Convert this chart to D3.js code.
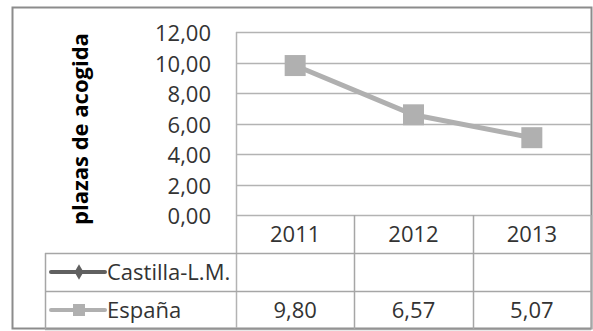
<!DOCTYPE html>
<html>
<head>
<meta charset="utf-8">
<script src="https://cdn.jsdelivr.net/npm/d3@7"></script>
<style>
    body { margin: 0; background: #fff; }
    text { font-family: "Open Sans", sans-serif; fill: #333; }
</style>
</head>
<body>
<div id="chart"></div>
<script>
var years = ["2011", "2012", "2013"];
var seriesNames = ["Castilla-L.M.", "España"];
var castillaValues = [null, null, null];
var espanaValues = [9.80, 6.57, 5.07];
var yTicks = [0, 2, 4, 6, 8, 10, 12];

var width = 593, height = 331;
var plot = {left: 236, right: 591, top: 32, bottom: 215};
var tableLeft = 45;
var rowH = 38;
var fontSize = "22px";

var fmt = function (v) { return v.toFixed(2).replace(".", ","); };

var svg = d3.select("#chart").append("svg")
    .attr("width", width)
    .attr("height", height);

var xScale = d3.scaleBand().domain(years).range([plot.left, plot.right]);
var yScale = d3.scaleLinear().domain([0, 12]).range([plot.bottom, plot.top]);

// frame
svg.append("rect")
    .attr("x", 12.5).attr("y", 7.5)
    .attr("width", 579).attr("height", 321)
    .attr("fill", "none")
    .attr("stroke", "#8c8c8c")
    .attr("stroke-width", 2);

// gridlines
svg.append("g").selectAll("line")
    .data(yTicks)
    .enter().append("line")
    .attr("x1", plot.left).attr("x2", plot.right)
    .attr("y1", function (d) { return Math.round(yScale(d)) + 0.5; })
    .attr("y2", function (d) { return Math.round(yScale(d)) + 0.5; })
    .attr("stroke", "#b3b3b3")
    .attr("stroke-width", 1.5);

svg.append("line")
    .attr("x1", plot.left + 0.5).attr("x2", plot.left + 0.5)
    .attr("y1", plot.top).attr("y2", height - 3)
    .attr("stroke", "#b3b3b3").attr("stroke-width", 1.5);

// y tick labels
svg.append("g").selectAll("text")
    .data(yTicks)
    .enter().append("text")
    .attr("x", 211)
    .attr("y", function (d) { return yScale(d) + 9; })
    .attr("text-anchor", "end")
    .style("font-size", fontSize)
    .text(fmt);

// y title
svg.append("text")
    .attr("transform", "translate(88,129) rotate(-90)")
    .attr("text-anchor", "middle")
    .style("font-size", "22px")
    .style("font-weight", "bold")
    .style("fill", "#000")
    .text("plazas de acogida");

// table
var table = svg.append("g");
var rowsTop = plot.bottom;
[1, 2, 3].forEach(function (i) {
    var y = Math.round(rowsTop + rowH * i) + 0.5;
    table.append("line")
        .attr("x1", tableLeft).attr("x2", plot.right)
        .attr("y1", y).attr("y2", y)
        .attr("stroke", "#a6a6a6").attr("stroke-width", 1.5);
});
table.append("line")
    .attr("x1", tableLeft + 0.5).attr("x2", tableLeft + 0.5)
    .attr("y1", rowsTop + rowH).attr("y2", rowsTop + rowH * 3)
    .attr("stroke", "#a6a6a6").attr("stroke-width", 1.5);
years.forEach(function (yr) {
    var x = Math.round(xScale(yr) + xScale.bandwidth()) + 0.5;
    table.append("line")
        .attr("x1", x).attr("x2", x)
        .attr("y1", rowsTop).attr("y2", rowsTop + rowH * 3)
        .attr("stroke", "#a6a6a6").attr("stroke-width", 1.5);
});

table.selectAll("text.year")
    .data(years)
    .enter().append("text")
    .attr("class", "year")
    .attr("x", function (d) { return xScale(d) + xScale.bandwidth() / 2; })
    .attr("y", rowsTop + rowH / 2 + 8)
    .attr("text-anchor", "middle")
    .style("font-size", fontSize)
    .text(function (d) { return d; });

table.selectAll("text.val")
    .data(espanaValues)
    .enter().append("text")
    .attr("class", "val")
    .attr("x", function (d, i) { return xScale(years[i]) + xScale.bandwidth() / 2; })
    .attr("y", rowsTop + rowH * 2.5 + 8)
    .attr("text-anchor", "middle")
    .style("font-size", fontSize)
    .text(fmt);

// legend keys inside table
var legendColors = ["#606060", "#b0b0b0"];
seriesNames.forEach(function (name, i) {
    var cy = rowsTop + rowH * (i + 1.5);
    table.append("line")
        .attr("x1", 51).attr("x2", 105)
        .attr("y1", cy).attr("y2", cy)
        .attr("stroke", legendColors[i])
        .attr("stroke-width", 4)
        .attr("stroke-linecap", "round");
    if (i === 0) {
        table.append("path")
            .attr("d", d3.symbol().type(d3.symbolDiamond).size(70)())
            .attr("transform", "translate(79," + cy + ")")
            .attr("fill", legendColors[i]);
    } else {
        table.append("rect")
            .attr("x", 73).attr("y", cy - 6)
            .attr("width", 12).attr("height", 12)
            .attr("fill", legendColors[i]);
    }
    table.append("text")
        .attr("x", 107)
        .attr("y", cy + 8)
        .style("font-size", fontSize)
        .text(name);
});

// series line
var line = d3.line()
    .defined(function (d) { return d !== null; })
    .x(function (d, i) { return xScale(years[i]) + xScale.bandwidth() / 2; })
    .y(function (d) { return yScale(d); });

svg.append("path")
    .attr("d", line(castillaValues))
    .attr("fill", "none")
    .attr("stroke", legendColors[0])
    .attr("stroke-width", 5);

svg.append("path")
    .attr("d", line(espanaValues))
    .attr("fill", "none")
    .attr("stroke", legendColors[1])
    .attr("stroke-width", 5);

svg.append("g").selectAll("rect")
    .data(espanaValues)
    .enter().append("rect")
    .attr("x", function (d, i) { return xScale(years[i]) + xScale.bandwidth() / 2 - 10.5; })
    .attr("y", function (d) { return yScale(d) - 10.5; })
    .attr("width", 21).attr("height", 21)
    .attr("fill", legendColors[1]);
</script>
</body>
</html>
